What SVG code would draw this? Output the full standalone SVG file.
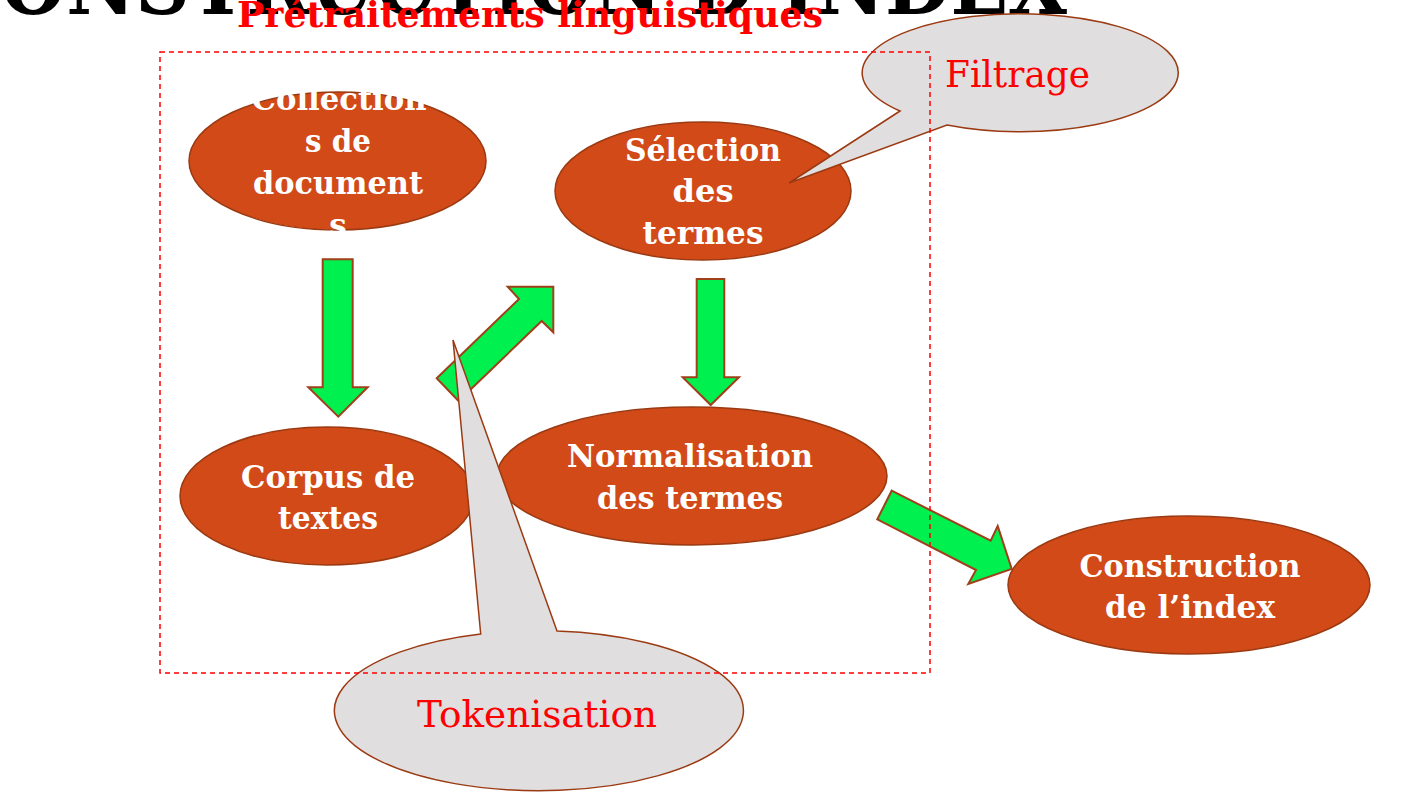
<svg xmlns="http://www.w3.org/2000/svg" width="1401" height="798" viewBox="0 0 1401 798">
<style>
.node{fill:#D14A17;stroke:#9B3A12;stroke-width:1.5}
.nt{font-family:"DejaVu Serif","Liberation Serif",serif;font-weight:bold;font-size:31px;fill:#FFFFFF;text-anchor:middle}
.arrow{fill:#00F04F;stroke:#A0401A;stroke-width:2;stroke-linejoin:miter}
.callout{fill:#E0DEDF;stroke:#9B3A12;stroke-width:1.5}
.ct{font-family:"DejaVu Serif","Liberation Serif",serif;font-size:37px;fill:#FF0000}
</style>
<rect width="1401" height="798" fill="#FFFFFF"/>
<text x="-60" y="14" font-family="DejaVu Serif, Liberation Serif, serif" font-weight="bold" font-size="84" fill="#000000" textLength="1127" lengthAdjust="spacingAndGlyphs">CONSTRUCTION D’INDEX</text>
<text x="237" y="27" font-family="DejaVu Serif, Liberation Serif, serif" font-weight="bold" font-size="35" fill="#FF0000" textLength="586" lengthAdjust="spacingAndGlyphs">Prétraitements linguistiques</text>

<g id="connectors">
<polygon class="arrow" points="322.7,259.3 352.7,259.3 352.7,387.3 367.7,387.3 338.3,416.7 308.3,387.3 322.7,387.3"/>
<polygon class="arrow" points="696.7,279 724.3,279 724.3,377.3 739,377.3 710.7,405 682.7,377.3 696.7,377.3"/>
<polygon class="arrow" points="436.7,378.3 519,299 507.7,286.7 553.3,286.7 553.3,332.3 541.7,321 458.6,401"/>
<polygon class="arrow" points="891.7,490.7 990.7,540.7 997.7,526 1011.7,569 968.3,584 976,570 877.3,519.3"/>
</g>

<g id="n-collections">
<ellipse class="node" cx="337.5" cy="161" rx="148.5" ry="69"/>
<text class="nt" x="339" y="110" textLength="175" lengthAdjust="spacingAndGlyphs">Collection</text>
<text class="nt" x="338" y="152" textLength="66" lengthAdjust="spacingAndGlyphs">s de</text>
<text class="nt" x="338" y="194" textLength="170" lengthAdjust="spacingAndGlyphs">document</text>
<text class="nt" x="338" y="236">s</text>
</g>
<g id="n-selection">
<ellipse class="node" cx="703" cy="191" rx="148" ry="69"/>
<text class="nt" x="703" y="161" textLength="156" lengthAdjust="spacingAndGlyphs">Sélection</text>
<text class="nt" x="703" y="202" textLength="61" lengthAdjust="spacingAndGlyphs">des</text>
<text class="nt" x="703" y="244" textLength="121" lengthAdjust="spacingAndGlyphs">termes</text>
</g>
<g id="n-corpus">
<ellipse class="node" cx="327" cy="496" rx="147" ry="69"/>
<text class="nt" x="328" y="488" textLength="174" lengthAdjust="spacingAndGlyphs">Corpus de</text>
<text class="nt" x="328" y="529" textLength="100" lengthAdjust="spacingAndGlyphs">textes</text>
</g>
<g id="n-normalisation">
<ellipse class="node" cx="692" cy="476" rx="195" ry="69"/>
<text class="nt" x="690" y="467" textLength="246" lengthAdjust="spacingAndGlyphs">Normalisation</text>
<text class="nt" x="690" y="509" textLength="186" lengthAdjust="spacingAndGlyphs">des termes</text>
</g>
<g id="n-construction">
<ellipse class="node" cx="1189" cy="585" rx="181" ry="69"/>
<text class="nt" x="1190" y="577" textLength="221" lengthAdjust="spacingAndGlyphs">Construction</text>
<text class="nt" x="1190" y="618" textLength="170" lengthAdjust="spacingAndGlyphs">de l’index</text>
</g>

<g id="c-filtrage">
<path class="callout" d="M900,111 L789,183 L947,125 A158,59 0 1 0 900,111 Z"/>
<text class="ct" x="945" y="87" textLength="145" lengthAdjust="spacingAndGlyphs">Filtrage</text>
</g>
<g id="c-tokenisation">
<path class="callout" d="M480.7,634 L453,340 L557,631 A204.5,80 0 1 1 480.7,634 Z"/>
<text class="ct" x="417" y="727" textLength="240" lengthAdjust="spacingAndGlyphs">Tokenisation</text>
</g>

<g id="pretraitements-box">
<rect x="160" y="52" width="770" height="621" fill="none" stroke="#FF0000" stroke-width="1.5" stroke-dasharray="5,4"/>
</g>
</svg>
